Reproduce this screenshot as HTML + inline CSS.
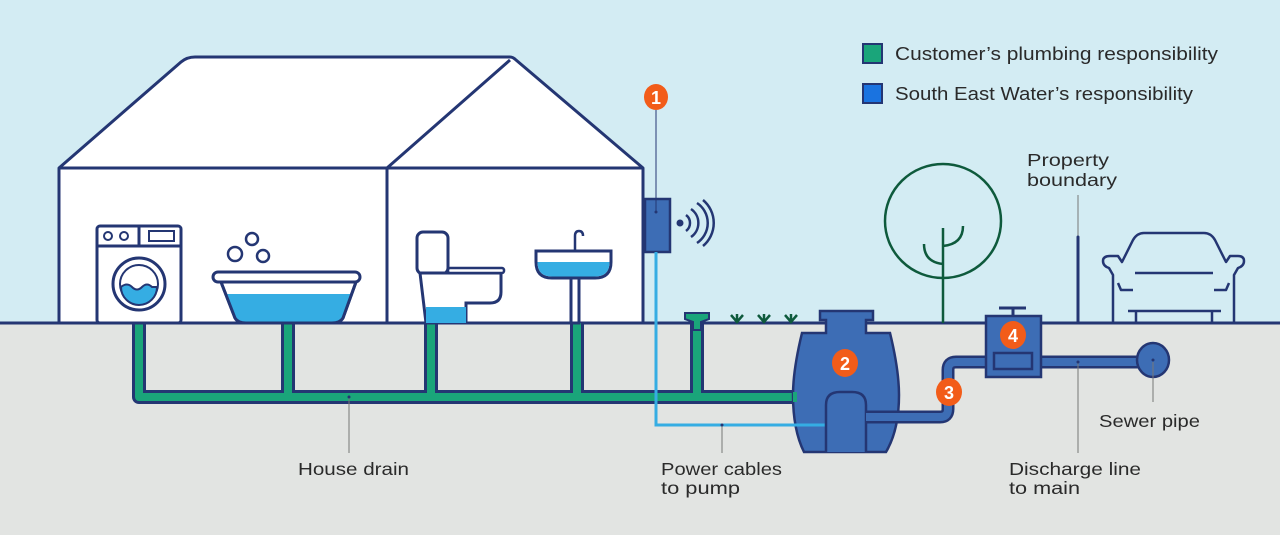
<!DOCTYPE html>
<html><head><meta charset="utf-8"><style>
html,body{margin:0;padding:0;background:#d3ecf3}
svg{display:block}
text{font-family:"Liberation Sans",sans-serif;fill:#2a2a2a}
</style></head><body>
<svg width="1280" height="535" viewBox="0 0 1280 535" xmlns="http://www.w3.org/2000/svg">
<rect width="1280" height="535" fill="#d3ecf3"/>
<rect y="323" width="1280" height="212" fill="#e2e4e2"/>
<g stroke="#243673" stroke-width="3" stroke-linejoin="round" fill="#fff">
<path d="M59 323 V168 L181 62 Q187 57 195 57 H510 Q513 57 516 60 L643 168 V323 Z"/>
<path d="M59 168 H643 M387 168 V323 M387 168 L510 60" fill="none"/>
</g>
<line x1="0" y1="323" x2="1280" y2="323" stroke="#243673" stroke-width="3"/>

<g fill="none" stroke-linejoin="round">
<path d="M139 323 V397 H800 M288 323 V397 M431 323 V397 M577 323 V397 M697 318 V397" stroke="#243673" stroke-width="14"/>
<path d="M139 323 V397 H800 M288 323 V397 M431 323 V397 M577 323 V397 M697 318 V397" stroke="#1aa57a" stroke-width="8"/>
</g>
<path d="M685 313 H709 V319 L701 322 V330 H693 V322 L685 319 Z" fill="#1aa57a" stroke="#243673" stroke-width="2"/>

<g stroke="#243673" stroke-width="3" fill="#fff">
<rect x="97" y="226" width="84" height="97" rx="3"/>
<line x1="97" y1="246" x2="181" y2="246"/>
<line x1="139" y1="226" x2="139" y2="246"/>
<circle cx="108" cy="236" r="4" stroke-width="2"/>
<circle cx="124" cy="236" r="4" stroke-width="2"/>
<rect x="149" y="231" width="25" height="10" stroke-width="2"/>
<circle cx="139" cy="284" r="26"/>
<circle cx="139" cy="284" r="19" stroke-width="2"/>
</g>
<path d="M121 287 Q127 282 132 287 Q137 292 142 287 Q147 282 152 287 L157 287 A18 18 0 0 1 121 287 Z" fill="#35ade3" stroke="#243673" stroke-width="2"/>

<g stroke="#243673" stroke-width="3">
<path d="M221 282 L235 318 Q238 323 246 323 H332 Q340 323 343 318 L356 282 Z" fill="#fff"/>
<path d="M225 294 L352 294 L343 318 Q340 323 332 323 H246 Q238 323 235 318 Z" fill="#35ade3" stroke="none"/>
<path d="M221 282 L235 318 Q238 323 246 323 H332 Q340 323 343 318 L356 282" fill="none"/>
<rect x="213" y="272" width="147" height="10" rx="5" fill="#fff"/>
<circle cx="235" cy="254" r="7" fill="none" stroke-width="2.5"/>
<circle cx="252" cy="239" r="6" fill="none" stroke-width="2.5"/>
<circle cx="263" cy="256" r="6" fill="none" stroke-width="2.5"/>
</g>

<g stroke="#243673" stroke-width="3" fill="#fff">
<rect x="417" y="232" width="31" height="42" rx="6"/>
<path d="M420 273 L426 323 H466 V303 H490 Q501 303 501 292 V273 Z"/>
<rect x="426" y="307" width="40" height="16" fill="#35ade3" stroke="none"/>
<rect x="448" y="268" width="56" height="5" rx="2" stroke-width="2.5"/>
</g>

<g stroke="#243673" stroke-width="3" fill="#fff">
<rect x="571" y="276" width="8" height="47"/>
<path d="M536 251 H611 V262 Q611 278 595 278 H552 Q536 278 536 262 Z"/>
<path d="M537.5 262 H609.5 Q609.5 276.5 595 276.5 H552 Q537.5 276.5 537.5 262 Z" fill="#35ade3" stroke="none"/>
<path d="M575 251 V236 Q575 231 579 231 Q583 231 583 236" fill="none" stroke-width="2.5"/>
</g>

<rect x="645" y="199" width="25" height="53" fill="#3d6db5" stroke="#243673" stroke-width="2.5"/>
<line x1="656" y1="110" x2="656" y2="212" stroke="#243673" stroke-width="1"/>
<circle cx="656" cy="212" r="1.5" fill="#243673"/>
<circle cx="680" cy="223" r="3.5" fill="#243673"/>
<g fill="none" stroke="#243673" stroke-width="2.5">
<path d="M686 215 A10 10 0 0 1 686 231"/>
<path d="M691 209 A17 17 0 0 1 691 237"/>
<path d="M697 203 A24 24 0 0 1 697 243"/>
<path d="M703 200 A30 30 0 0 1 703 246"/>
</g>
<ellipse cx="656" cy="97" rx="12" ry="13" fill="#f25c19"/>
<text x="656" y="104" text-anchor="middle" font-size="18" font-weight="bold" style="fill:#fff">1</text>

<g stroke="#0e5a3c" stroke-width="2.5" fill="none">
<path d="M737 323 V314 M731 315 L737 322 L743 315"/>
<path d="M764 323 V314 M758 315 L764 322 L770 315"/>
<path d="M791 323 V314 M785 315 L791 322 L797 315"/>
</g>

<path d="M820 311 H873 V320 H866 V333 H890 Q899 370 899 395 Q899 430 886 452 H804 Q793 430 793 395 Q793 370 802 333 H826 V320 H820 Z" fill="#3d6db5" stroke="#243673" stroke-width="2.5"/>
<rect x="793" y="392" width="4" height="10" fill="#1aa57a"/>
<path d="M656 252 V425 H826" fill="none" stroke="#35ade3" stroke-width="3"/>
<path d="M826 452 V405 Q826 392 840 392 H852 Q866 392 866 405 V452" fill="#3d6db5" stroke="#243673" stroke-width="2.5"/>
<path d="M866 417 H940 Q948 417 948 409 V370 Q948 362 956 362 H1140" fill="none" stroke="#243673" stroke-width="13"/>
<path d="M866 417 H940 Q948 417 948 409 V370 Q948 362 956 362 H1140" fill="none" stroke="#3d6db5" stroke-width="8"/>
<ellipse cx="1153" cy="360" rx="16" ry="17" fill="#3d6db5" stroke="#243673" stroke-width="2.5"/>
<circle cx="1153" cy="360" r="1.5" fill="#243673"/>
<line x1="1013" y1="308" x2="1013" y2="316" stroke="#243673" stroke-width="3"/>
<line x1="999" y1="308" x2="1026" y2="308" stroke="#243673" stroke-width="3"/>
<rect x="986" y="316" width="55" height="61" fill="#3d6db5" stroke="#243673" stroke-width="2.5"/>
<rect x="994" y="353" width="38" height="16" fill="#3d6db5" stroke="#243673" stroke-width="2.5"/>
<ellipse cx="845" cy="363" rx="13" ry="14" fill="#f25c19"/>
<text x="845" y="370" text-anchor="middle" font-size="18" font-weight="bold" style="fill:#fff">2</text>
<ellipse cx="949" cy="392" rx="13" ry="14" fill="#f25c19"/>
<text x="949" y="399" text-anchor="middle" font-size="18" font-weight="bold" style="fill:#fff">3</text>
<ellipse cx="1013" cy="335" rx="13" ry="14" fill="#f25c19"/>
<text x="1013" y="342" text-anchor="middle" font-size="18" font-weight="bold" style="fill:#fff">4</text>

<g stroke="#0e5a3c" stroke-width="2.5" fill="none">
<ellipse cx="943" cy="221" rx="58" ry="57"/>
<path d="M943 228 V323 M943 264 Q924 262 924 244 M943 246 Q963 244 963 226"/>
</g>

<line x1="1078" y1="237" x2="1078" y2="323" stroke="#243673" stroke-width="3"/>
<line x1="1078" y1="195" x2="1078" y2="237" stroke="#777" stroke-width="1"/>

<g stroke="#243673" stroke-width="2.5" fill="none" stroke-linejoin="round">
<path d="M1113 323 V275 L1109 268 Q1103 266 1103 261 Q1103 256 1110 256 H1118 L1122 262 L1133 240 Q1137 233 1144 233 H1204 Q1211 233 1215 240 L1226 262 L1230 256 H1238 Q1244 256 1244 261 Q1244 266 1238 268 L1234 275 V323"/>
<path d="M1135 273 H1213 M1118 283 L1121 290 H1133 M1229 283 L1226 290 H1214 M1128 311 H1221 M1136 311 V323 M1212 311 V323"/>
</g>

<rect x="863" y="44" width="19" height="19" fill="#1aa57a" stroke="#243673" stroke-width="2"/>
<rect x="863" y="84" width="19" height="19" fill="#1a73e0" stroke="#243673" stroke-width="2"/>
<text x="895" y="60" font-size="18" textLength="323" lengthAdjust="spacingAndGlyphs">Customer’s plumbing responsibility</text>
<text x="895" y="100" font-size="18" textLength="298" lengthAdjust="spacingAndGlyphs">South East Water’s responsibility</text>

<g stroke="#777" stroke-width="1">
<line x1="349" y1="397" x2="349" y2="453"/>
<line x1="722" y1="425" x2="722" y2="453"/>
<line x1="1078" y1="362" x2="1078" y2="453"/>
<line x1="1153" y1="362" x2="1153" y2="402"/>
</g>
<g fill="#243673"><circle cx="349" cy="397" r="1.5"/><circle cx="722" cy="425" r="1.5"/><circle cx="1078" cy="362" r="1.5"/><circle cx="1078" cy="237" r="1.5"/></g>
<g font-size="17.5" lengthAdjust="spacingAndGlyphs">
<text x="1027" y="166" textLength="82" lengthAdjust="spacingAndGlyphs">Property</text>
<text x="1027" y="186" textLength="90" lengthAdjust="spacingAndGlyphs">boundary</text>
<text x="298" y="475" textLength="111" lengthAdjust="spacingAndGlyphs">House drain</text>
<text x="661" y="475" textLength="121" lengthAdjust="spacingAndGlyphs">Power cables</text>
<text x="661" y="494" textLength="79" lengthAdjust="spacingAndGlyphs">to pump</text>
<text x="1009" y="475" textLength="132" lengthAdjust="spacingAndGlyphs">Discharge line</text>
<text x="1009" y="494" textLength="71" lengthAdjust="spacingAndGlyphs">to main</text>
<text x="1099" y="427" textLength="101" lengthAdjust="spacingAndGlyphs">Sewer pipe</text>
</g>
</svg>
</body></html>
